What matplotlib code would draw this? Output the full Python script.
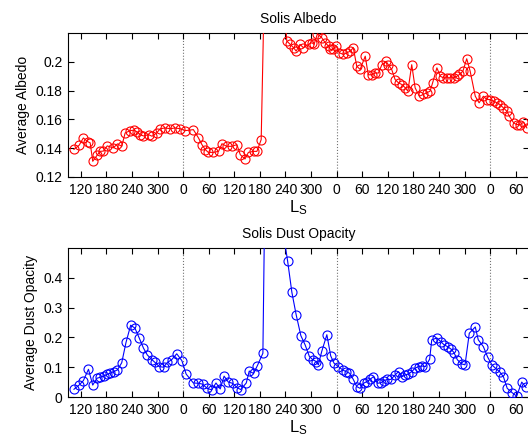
import matplotlib
matplotlib.use("Agg")
import matplotlib.pyplot as plt
from matplotlib.ticker import FixedLocator, FuncFormatter

plt.rcParams['font.family'] = ['Liberation Sans', 'DejaVu Sans']
plt.rcParams['mathtext.default'] = 'regular'

# ---- data (cumulative Ls in degrees; labels shown modulo 360) ----
albedo_ls = [104, 116, 126, 136, 142, 148, 158, 165, 173, 182, 196, 206, 216, 224,
             236, 244, 251, 259, 267, 279, 287, 298, 306, 318, 330, 341, 353, 365,
             384, 396, 404, 412, 419, 431, 443, 451, 462, 474, 486, 494, 505, 513,
             525, 533, 543,
             553, 565, 578, 588, 596,
             603, 611, 619, 625, 634, 642, 654, 662, 667, 675, 685, 693, 701, 705,
             712, 719, 726, 736, 744, 752, 759, 767, 775, 787, 794, 802, 810, 818,
             826, 836, 841, 849, 857, 865, 873, 881, 887, 896, 904, 914, 923, 931,
             939, 945, 955, 963, 970, 978, 986, 994, 1002, 1008, 1016, 1025, 1033,
             1045, 1054, 1064, 1072, 1080, 1088, 1096, 1103, 1111, 1119, 1125, 1135,
             1142, 1150, 1158, 1166]
albedo = [0.1392, 0.1420, 0.1471, 0.1446, 0.1437, 0.1309, 0.1350, 0.1378, 0.1380,
          0.1416, 0.1402, 0.1430, 0.1413, 0.1506, 0.1522, 0.1525, 0.1515, 0.1494,
          0.1485, 0.1494, 0.1483, 0.1506, 0.1535, 0.1541, 0.1535, 0.1541, 0.1535,
          0.1522, 0.1529, 0.1471, 0.1425, 0.1390, 0.1371, 0.1371, 0.1378, 0.1431,
          0.1413, 0.1413, 0.1425, 0.1355, 0.1325, 0.1371, 0.1378, 0.1378, 0.1460,
          0.290, 0.310, 0.300, 0.280, 0.245,
          0.2144, 0.2121, 0.2098, 0.2074, 0.2121, 0.2098, 0.2121, 0.2133, 0.2121,
          0.2195, 0.2167, 0.2133, 0.2109, 0.2086, 0.2086, 0.2109, 0.2063, 0.2051,
          0.2063, 0.2074, 0.2098, 0.1970, 0.1947, 0.2039, 0.1910, 0.1910, 0.1922,
          0.1922, 0.1980, 0.2003, 0.1980, 0.1947, 0.1877, 0.1854, 0.1842, 0.1819,
          0.1796, 0.1980, 0.1819, 0.1761, 0.1773, 0.1785, 0.1796, 0.1854, 0.1958,
          0.1900, 0.1889, 0.1889, 0.1889, 0.1889, 0.1900, 0.1912, 0.1935, 0.2021,
          0.1935, 0.1761, 0.1715, 0.1761, 0.1738, 0.1738, 0.1726, 0.1715, 0.1703,
          0.1680, 0.1657, 0.1622, 0.1576, 0.1564, 0.1564, 0.1580, 0.1541]

dust_ls = [104, 116, 126, 138, 148, 158, 165, 175, 182, 189, 197, 206, 216, 226,
           237, 247, 257, 267, 276, 287, 294, 304, 314, 323, 333, 345, 357, 367,
           384, 396, 406, 416, 427, 437, 447, 456, 466, 476, 487, 495, 508, 515,
           525, 534, 547,
           553, 561, 570, 580, 588, 596,
           605, 615, 625, 636, 646, 656, 664, 672, 677, 685, 697, 706, 714, 724,
           734, 742, 750, 759, 767, 775, 783, 791, 798, 806, 816, 824, 831, 839,
           847, 857, 865, 873, 881, 888, 896, 904, 912, 920, 928, 938, 943, 955,
           964, 972, 980, 988, 995, 1003, 1013, 1021, 1031, 1045, 1052, 1064, 1074,
           1084, 1092, 1102, 1111, 1120, 1131, 1142, 1154, 1164]
dust = [0.026, 0.040, 0.055, 0.093, 0.040, 0.063, 0.066, 0.071, 0.076, 0.080,
        0.085, 0.091, 0.115, 0.183, 0.241, 0.231, 0.198, 0.164, 0.141, 0.125,
        0.116, 0.102, 0.100, 0.116, 0.125, 0.145, 0.122, 0.077, 0.047, 0.046,
        0.043, 0.029, 0.024, 0.047, 0.027, 0.070, 0.050, 0.046, 0.031, 0.025,
        0.047, 0.087, 0.079, 0.105, 0.147,
        0.85, 1.20, 1.30, 1.00, 0.75, 0.54,
        0.456, 0.351, 0.276, 0.206, 0.175, 0.136, 0.125, 0.119, 0.108, 0.153,
        0.209, 0.138, 0.113, 0.102, 0.091, 0.085, 0.080, 0.059, 0.035, 0.029,
        0.046, 0.052, 0.059, 0.068, 0.046, 0.048, 0.055, 0.059, 0.059, 0.074,
        0.085, 0.068, 0.074, 0.077, 0.085, 0.097, 0.102, 0.104, 0.102, 0.127,
        0.192, 0.198, 0.186, 0.175, 0.169, 0.161, 0.149, 0.125, 0.111, 0.108,
        0.214, 0.235, 0.192, 0.169, 0.134, 0.108, 0.097, 0.085, 0.068, 0.029,
        0.015, 0.003, 0.050, 0.032]

xtick_pos = list(range(120, 1141, 60))
year_starts = [360, 720, 1080]
titles = ['Solis Albedo', 'Solis Dust Opacity']
ylabels = ['Average Albedo', 'Average Dust Opacity']

W, H = 528, 436
fig = plt.figure(figsize=(W / 100, H / 100), dpi=100)
left = 68 / W
width = (529 - 68) / W
ax1 = fig.add_axes([left, (H - 177) / H, width, 144 / H])
ax2 = fig.add_axes([left, (H - 397) / H, width, 149 / H])

fmt_ls = FuncFormatter(lambda v, p: '%d' % (int(round(v)) % 360))

for ax, xs, ys, col, ylim, yt, title, yl in [
        (ax1, albedo_ls, albedo, '#ff0000', (0.12, 0.22), [0.12, 0.14, 0.16, 0.18, 0.2],
         titles[0], ylabels[0]),
        (ax2, dust_ls, dust, '#0000ff', (0, 0.5), [0, 0.1, 0.2, 0.3, 0.4],
         titles[1], ylabels[1])]:
    for ys0 in year_starts:
        ax.axvline(ys0, color='0.45', linestyle=':', linewidth=0.8, zorder=1)
    ax.plot(xs, ys, '-o', color=col, markerfacecolor='none', markeredgecolor=col,
            markersize=6.5, linewidth=0.8, markeredgewidth=0.8, zorder=3)
    ax.set_xlim(90, 1171)
    ax.set_ylim(*ylim)
    ax.xaxis.set_major_locator(FixedLocator(xtick_pos))
    ax.xaxis.set_major_formatter(fmt_ls)
    ax.set_yticks(yt)
    ax.yaxis.set_major_formatter(FuncFormatter(lambda v, p: '%g' % round(v, 4)))
    ax.tick_params(direction='in', top=True, right=True, length=4, width=0.8,
                   labelsize=10, pad=4)
    ax.set_title(title, fontsize=10, pad=7)
    ax.set_ylabel(yl, fontsize=10, labelpad=4)
    ax.set_xlabel('L$_{S}$', fontsize=12, labelpad=1)
    for s in ax.spines.values():
        s.set_linewidth(0.8)

fig.savefig('out.png', dpi=100)
